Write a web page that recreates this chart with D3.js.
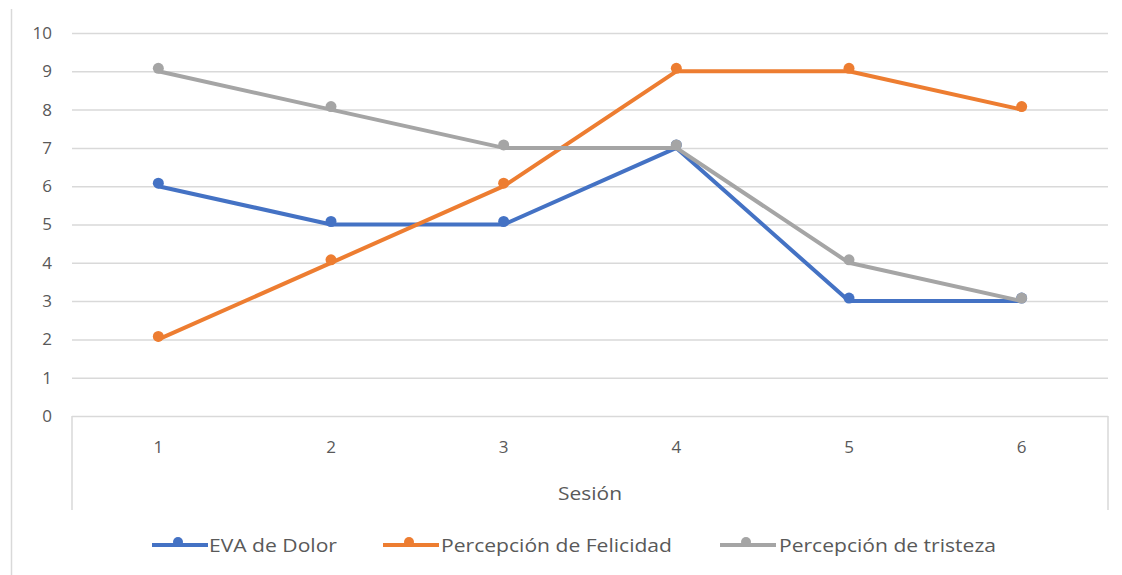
<!DOCTYPE html>
<html>
<head>
<meta charset="utf-8">
<script src="https://cdn.jsdelivr.net/npm/d3@7"></script>
<style>
  html, body { margin: 0; padding: 0; background: #fff; }
  svg { display: block; }
  text { font-family: "Open Sans", "Liberation Sans", sans-serif; fill: #595959; }
</style>
</head>
<body>
<svg id="chart" width="1122" height="575"></svg>
<script>
// Sessions and scores per indicator
const sessions = ["1", "2", "3", "4", "5", "6"];
const evaDolor = [6, 5, 5, 7, 3, 3];
const felicidad = [2, 4, 6, 9, 9, 8];
const tristeza = [9, 8, 7, 7, 4, 3];
const seriesNames = ["EVA de Dolor", "Percepción de Felicidad", "Percepción de tristeza"];
const seriesColors = ["#4472C4", "#ED7D31", "#A5A5A5"];
const yTicks = [0, 1, 2, 3, 4, 5, 6, 7, 8, 9, 10];
const xTitle = "Sesión";

const series = [evaDolor, felicidad, tristeza].map((v, i) => ({
  name: seriesNames[i], color: seriesColors[i], values: v
}));

const svg = d3.select("#chart");
const plot = { left: 72, right: 1108, top: 33, bottom: 416 };
const fontStack = "\"Open Sans\", \"Liberation Sans\", sans-serif";

const x = d3.scaleBand().domain(sessions).range([plot.left, plot.right]);
const y = d3.scaleLinear().domain([0, 10]).range([plot.bottom, plot.top]);

// outer chart frame (left edge)
svg.append("line")
  .attr("x1", 11.5).attr("x2", 11.5).attr("y1", 9).attr("y2", 575)
  .attr("stroke", "#d9d9d9").attr("stroke-width", 1.5);

// horizontal gridlines + value labels
const yAxis = d3.axisLeft(y).tickValues(yTicks)
  .tickSize(-(plot.right - plot.left)).tickPadding(20).tickFormat(d3.format("d"));
const gy = svg.append("g").attr("transform", `translate(${plot.left},0)`).call(yAxis);
gy.select(".domain").remove();
gy.selectAll(".tick line").attr("stroke", "#d9d9d9").attr("stroke-width", 1.5);
gy.selectAll(".tick text").attr("font-size", 17).attr("fill", "#595959")
  .attr("font-family", fontStack);

// category axis with its boxed tick area
const xAxis = d3.axisBottom(x).tickSize(0).tickPadding(25);
const gx = svg.append("g").attr("transform", `translate(0,${plot.bottom})`).call(xAxis);
gx.select(".domain").remove();
gx.selectAll(".tick text").attr("font-size", 17).attr("fill", "#595959")
  .attr("font-family", fontStack);
[plot.left, plot.right].forEach(px => {
  svg.append("line")
    .attr("x1", px).attr("x2", px).attr("y1", plot.bottom).attr("y2", 510)
    .attr("stroke", "#d9d9d9").attr("stroke-width", 1.5);
});

svg.append("text")
  .attr("x", (plot.left + plot.right) / 2).attr("y", 500)
  .attr("text-anchor", "middle").attr("font-size", 18)
  .attr("textLength", 64).attr("lengthAdjust", "spacingAndGlyphs")
  .text(xTitle);

// series lines and markers
const line = d3.line()
  .x((d, i) => x(sessions[i]) + x.bandwidth() / 2)
  .y(d => y(d));

series.forEach(s => {
  svg.append("path")
    .datum(s.values)
    .attr("d", line)
    .attr("fill", "none")
    .attr("stroke", s.color)
    .attr("stroke-width", 4)
    .attr("stroke-linejoin", "round")
    .attr("stroke-linecap", "round");
  svg.append("g").attr("transform", "translate(0,-3)")
    .selectAll("circle").data(s.values).join("circle")
    .attr("cx", (d, i) => x(sessions[i]) + x.bandwidth() / 2)
    .attr("cy", d => y(d))
    .attr("r", 5.5)
    .attr("fill", s.color);
});

// legend
const legendItems = [
  { x0: 152, tx: 209, w: 128 },
  { x0: 383, tx: 441, w: 231 },
  { x0: 720, tx: 779, w: 217 }
];
const ly = 545;
series.forEach((s, i) => {
  const it = legendItems[i];
  svg.append("line")
    .attr("x1", it.x0).attr("x2", it.x0 + 56).attr("y1", ly).attr("y2", ly)
    .attr("stroke", s.color).attr("stroke-width", 4);
  svg.append("circle")
    .attr("cx", it.x0 + 26).attr("cy", ly - 3).attr("r", 5).attr("fill", s.color);
  svg.append("text")
    .attr("x", it.tx).attr("y", ly + 7)
    .attr("font-size", 19)
    .attr("textLength", it.w).attr("lengthAdjust", "spacingAndGlyphs")
    .text(s.name);
});
</script>
</body>
</html>
